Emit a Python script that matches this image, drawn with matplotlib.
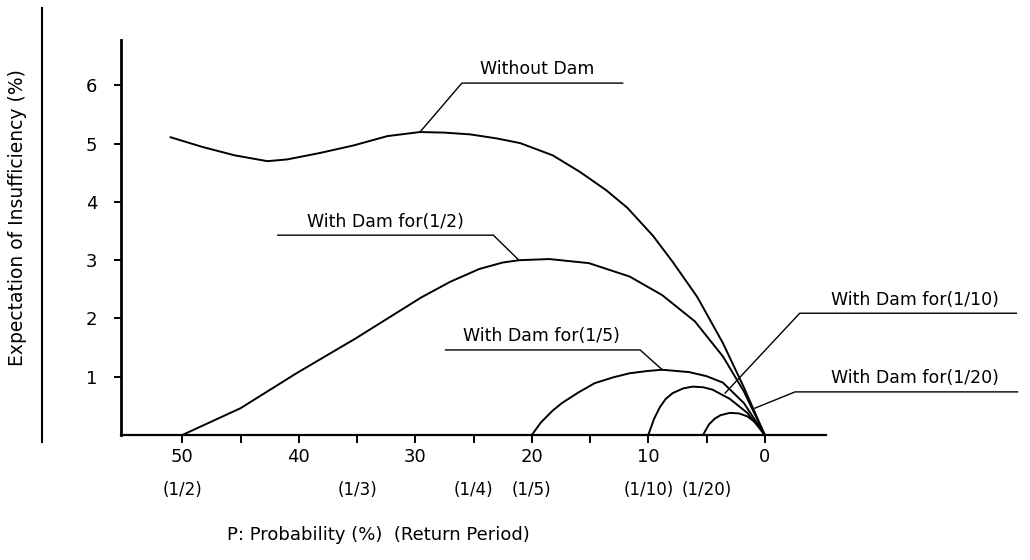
import numpy as np
import matplotlib.pyplot as plt
from matplotlib.lines import Line2D

# curves: x = probability (%), y = expectation of insufficiency (%)
without_x = [51.0, 48.2, 45.5, 42.7, 41.0, 38.2, 35.3, 32.4, 29.6, 27.5, 25.3, 23.0, 21.0,
             18.2, 15.9, 13.6, 11.8, 9.6, 7.9, 5.8, 3.6, 1.8, 0.0]
without_y = [5.11, 4.94, 4.80, 4.70, 4.73, 4.84, 4.97, 5.13, 5.20, 5.19, 5.16, 5.09, 5.01,
             4.80, 4.52, 4.20, 3.90, 3.42, 2.97, 2.37, 1.58, 0.82, 0.0]

dam2_x = [50.0, 45.0, 40.2, 35.1, 29.5, 27.0, 24.5, 22.5, 21.1, 18.5, 15.1, 11.6, 8.8,
          6.0, 3.6, 1.8, 0.0]
dam2_y = [0.0, 0.46, 1.06, 1.66, 2.36, 2.63, 2.85, 2.96, 3.00, 3.02, 2.95, 2.72, 2.40,
          1.95, 1.35, 0.75, 0.0]

dam5_x = [20.0, 19.2, 18.2, 17.4, 16.0, 14.6, 13.0, 11.6, 10.0, 8.8, 6.5, 5.0, 3.6, 1.8, 0.0]
dam5_y = [0.0, 0.22, 0.42, 0.55, 0.73, 0.89, 0.99, 1.06, 1.10, 1.12, 1.08, 1.01, 0.90, 0.55, 0.0]

dam10_x = [10.0, 9.5, 9.0, 8.5, 7.9, 7.0, 6.2, 5.3, 4.5, 3.0, 1.5, 0.0]
dam10_y = [0.0, 0.28, 0.48, 0.62, 0.72, 0.80, 0.83, 0.82, 0.78, 0.62, 0.38, 0.0]

dam20_x = [5.3, 4.8, 4.3, 3.8, 3.0, 2.2, 1.5, 0.7, 0.0]
dam20_y = [0.0, 0.18, 0.28, 0.34, 0.38, 0.37, 0.32, 0.20, 0.0]

major_ticks = [50, 40, 30, 20, 10, 0]
period_pos = [50, 35, 25, 20, 10, 5]
period_labels = ["(1/2)", "(1/3)", "(1/4)", "(1/5)", "(1/10)", "(1/20)"]
y_ticks = [1, 2, 3, 4, 5, 6]

# callouts: text, tip on curve, elbow, end of underline, text centre x
callouts = [
    ("Without Dam", (29.6, 5.20), (26.0, 6.04), 12.2, 19.5),
    ("With Dam for(1/2)", (21.1, 3.00), (23.3, 3.43), 41.8, 32.6),
    ("With Dam for(1/5)", (8.8, 1.12), (10.7, 1.46), 27.4, 19.2),
    ("With Dam for(1/10)", (3.4, 0.72), (-3.0, 2.09), -21.6, -12.9),
    ("With Dam for(1/20)", (0.86, 0.46), (-2.6, 0.74), -21.7, -12.9),
]

plt.rcParams['font.family'] = 'DejaVu Sans'
fig = plt.figure(figsize=(10.3, 5.6), dpi=100)
ax = fig.add_axes([0.1175, 0.2232, 0.6845, 0.7054])

for xs, ys in [(without_x, without_y), (dam2_x, dam2_y), (dam5_x, dam5_y),
               (dam10_x, dam10_y), (dam20_x, dam20_y)]:
    ax.plot(xs, ys, color='black', lw=1.4, solid_joinstyle='round')

ax.set_xlim(55.26, -5.26)
ax.set_ylim(0, 6.78)
ax.spines['top'].set_visible(False)
ax.spines['right'].set_visible(False)
ax.spines['left'].set_linewidth(2)
ax.spines['bottom'].set_linewidth(1.6)

ax.set_xticks(major_ticks)
ax.set_xticks(np.arange(45, 0, -10), minor=True)
ax.set_yticks(y_ticks)
ax.tick_params(axis='x', which='both', direction='out', length=6, width=1.4, labelsize=13, pad=3)
ax.tick_params(axis='y', direction='out', length=5, width=1.4, labelsize=13, pad=12)

for pos, lab in zip(period_pos, period_labels):
    ax.text(pos, -0.139, lab, transform=ax.get_xaxis_transform(), ha='center', va='center',
            fontsize=12)

for text, tip, elbow, end_x, text_x in callouts:
    ax.plot([tip[0], elbow[0], end_x], [tip[1], elbow[1], elbow[1]], color='black', lw=1.0,
            clip_on=False)
    ax.text(text_x, elbow[1] + 0.08, text, ha='center', va='bottom', fontsize=12.5, clip_on=False)

fig.text(0.017, 0.612, "Expectation of Insufficiency (%)", rotation=90, ha='center', va='center',
         fontsize=13.5)
fig.add_artist(Line2D([0.041, 0.041], [0.21, 0.985], color='black', lw=1.5))
fig.text(0.367, 0.045, "P: Probability (%)  (Return Period)", ha='center', va='center', fontsize=13)

fig.savefig("out.png", dpi=100)
